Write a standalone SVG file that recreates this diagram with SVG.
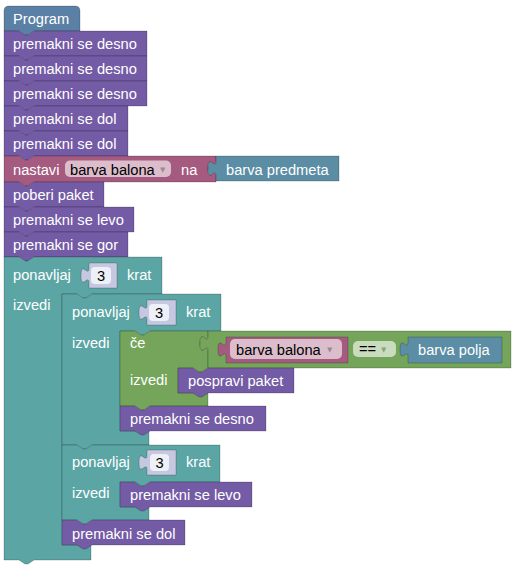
<svg xmlns="http://www.w3.org/2000/svg" width="516" height="577" viewBox="0 0 516 577">
<style>
.b{stroke:rgba(0,0,0,0.2);stroke-width:1}
.prog{fill:#5b80a5}.pur{fill:#745ba5}.pink{fill:#a55b80}.teal{fill:#5ba5a5}.grn{fill:#74a55b}.val{fill:#5b8da5}.shd{fill:#c6c8e2}
.t{font-family:"Liberation Sans",Arial,sans-serif;font-size:14.67px;fill:#fff}
.ft{font-family:"Liberation Sans",Arial,sans-serif;font-size:14.67px;fill:#000}
.arr{font-family:"DejaVu Sans",sans-serif;font-size:7px;fill:#000;fill-opacity:0.3}
.nf{fill:#eef0f7}
.pf{fill:#dcbdcc}
.gf{fill:#c9dcbd}
</style>
<rect width="516" height="577" fill="#fff"/>
<g id="program">
<path class="b prog" d="M4,11 Q4,6 9,6 H75 Q80,6 80,11 V31 H34 l-6,4 h-3 l-6,-4 H4 Z"/>
<text class="t" x="13" y="24">Program</text>
</g>
<g id="desno1">
<path class="b pur" d="M4,31 H19 l6,4 h3 l6,-4 H147 V56 H34 l-6,4 h-3 l-6,-4 H4 Z"/>
<text class="t" x="13" y="49">premakni se desno</text>
</g>
<g id="desno2">
<path class="b pur" d="M4,56 H19 l6,4 h3 l6,-4 H147 V81 H34 l-6,4 h-3 l-6,-4 H4 Z"/>
<text class="t" x="13" y="74">premakni se desno</text>
</g>
<g id="desno3">
<path class="b pur" d="M4,81 H19 l6,4 h3 l6,-4 H147 V106 H34 l-6,4 h-3 l-6,-4 H4 Z"/>
<text class="t" x="13" y="99">premakni se desno</text>
</g>
<g id="dol1">
<path class="b pur" d="M4,106 H19 l6,4 h3 l6,-4 H128 V131 H34 l-6,4 h-3 l-6,-4 H4 Z"/>
<text class="t" x="13" y="124">premakni se dol</text>
</g>
<g id="dol2">
<path class="b pur" d="M4,131 H19 l6,4 h3 l6,-4 H128 V156 H34 l-6,4 h-3 l-6,-4 H4 Z"/>
<text class="t" x="13" y="149">premakni se dol</text>
</g>
<g id="nastavi">
<path class="b pink" d="M4,156 H19 l6,4 h3 l6,-4 H216 V161 C216,171 208,153 208,168.5 C208,184 216,166 216,176 V182 H34 l-6,4 h-3 l-6,-4 H4 Z"/>
<text class="t" x="13" y="175">nastavi</text>
<rect class="pf" x="65" y="160.5" width="106" height="16.5" rx="5"/>
<text class="ft" x="70" y="174.5">barva balona</text>
<text class="arr" x="160" y="171.5">▼</text>
<text class="t" x="181" y="175">na</text>
</g>
<g id="barva_predmeta">
<path class="b val" d="M216,156 H339 V181 H216 V176 C216,166 208,184 208,168.5 C208,153 216,171 216,161 Z"/>
<text class="t" x="226" y="175">barva predmeta</text>
</g>
<g id="poberi">
<path class="b pur" d="M4,182 H19 l6,4 h3 l6,-4 H104 V207 H34 l-6,4 h-3 l-6,-4 H4 Z"/>
<text class="t" x="13" y="200">poberi paket</text>
</g>
<g id="levo1">
<path class="b pur" d="M4,207 H19 l6,4 h3 l6,-4 H134 V232 H34 l-6,4 h-3 l-6,-4 H4 Z"/>
<text class="t" x="13" y="225">premakni se levo</text>
</g>
<g id="gor">
<path class="b pur" d="M4,232 H19 l6,4 h3 l6,-4 H128 V257 H34 l-6,4 h-3 l-6,-4 H4 Z"/>
<text class="t" x="13" y="250">premakni se gor</text>
</g>
<g id="repeat_outer">
<path class="b teal" d="M4,257 H19 l6,4 h3 l6,-4 H162 V294 H92 l-6,4 h-3 l-6,-4 H62 V545 H91 V560 H34 l-6,4 h-3 l-6,-4 H4 Z"/>
<text class="t" x="13" y="280">ponavljaj</text>
<path class="b shd" d="M89,263 H117 V288 H89 V283 C89,273 81,291 81,275.5 C81,260 89,278 89,268 Z"/>
<rect class="nf" x="91" y="267" width="20" height="17" rx="4"/>
<text class="ft" x="101" y="281" text-anchor="middle">3</text>
<text class="t" x="127" y="280">krat</text>
<text class="t" x="13" y="310">izvedi</text>
</g>
<g id="repeat_inner1">
<path class="b teal" d="M62,294 H77 l6,4 h3 l6,-4 H221 V331 H150 l-6,4 h-3 l-6,-4 H120 V431 H149 V445 H92 l-6,4 h-3 l-6,-4 H62 Z"/>
<text class="t" x="72" y="317">ponavljaj</text>
<path class="b shd" d="M147,300 H176 V325 H147 V320 C147,310 139,328 139,312.5 C139,297 147,315 147,305 Z"/>
<rect class="nf" x="149" y="304" width="20" height="17" rx="4"/>
<text class="ft" x="159" y="318" text-anchor="middle">3</text>
<text class="t" x="186" y="317">krat</text>
<text class="t" x="72" y="348">izvedi</text>
</g>
<g id="if">
<path class="b grn" d="M120,331 H135 l6,4 h3 l6,-4 H208 V336 C208,346 200,328 200,343.5 C200,359 208,341 208,351 V368 H208 l-6,4 h-3 l-6,-4 H178 V393 H208 V406 H150 l-6,4 h-3 l-6,-4 H120 Z"/>
<text class="t" x="130" y="348">če</text>
<text class="t" x="130" y="385">izvedi</text>
</g>
<g id="compare">
<path class="b grn" d="M208,331 H511 V368 H208 V351 C208,341 200,359 200,343.5 C200,328 208,346 208,336 Z"/>
<rect class="gf" x="353" y="341" width="43" height="16" rx="5"/>
<text class="ft" x="359" y="354">==</text>
<text class="arr" x="381" y="351.5">▼</text>
</g>
<g id="barva_balona">
<path class="b pink" d="M226,337 H348 V363 H226 V357 C226,347 218,365 218,349.5 C218,334 226,352 226,342 Z"/>
<rect class="pf" x="230" y="339" width="112" height="20" rx="5"/>
<text class="ft" x="236" y="354.5">barva balona</text>
<text class="arr" x="327" y="352">▼</text>
</g>
<g id="barva_polja">
<path class="b val" d="M408,337 H502 V363 H408 V357 C408,347 400,365 400,349.5 C400,334 408,352 408,342 Z"/>
<text class="t" x="418" y="355">barva polja</text>
</g>
<g id="pospravi">
<path class="b pur" d="M178,368 H193 l6,4 h3 l6,-4 H294 V393 H208 l-6,4 h-3 l-6,-4 H178 Z"/>
<text class="t" x="188" y="386">pospravi paket</text>
</g>
<g id="desno4">
<path class="b pur" d="M120,406 H135 l6,4 h3 l6,-4 H266 V431 H150 l-6,4 h-3 l-6,-4 H120 Z"/>
<text class="t" x="130" y="424">premakni se desno</text>
</g>
<g id="repeat_inner2">
<path class="b teal" d="M62,445 H77 l6,4 h3 l6,-4 H220 V482 H150 l-6,4 h-3 l-6,-4 H120 V507 H149 V520 H92 l-6,4 h-3 l-6,-4 H62 Z"/>
<text class="t" x="72" y="467">ponavljaj</text>
<path class="b shd" d="M147,450 H176 V475 H147 V470 C147,460 139,478 139,462.5 C139,447 147,465 147,455 Z"/>
<rect class="nf" x="150" y="454" width="19" height="17" rx="4"/>
<text class="ft" x="159.5" y="468" text-anchor="middle">3</text>
<text class="t" x="186" y="467">krat</text>
<text class="t" x="72" y="498">izvedi</text>
</g>
<g id="levo2">
<path class="b pur" d="M120,482 H135 l6,4 h3 l6,-4 H252 V507 H150 l-6,4 h-3 l-6,-4 H120 Z"/>
<text class="t" x="130" y="500">premakni se levo</text>
</g>
<g id="dol3">
<path class="b pur" d="M62,520 H77 l6,4 h3 l6,-4 H185 V545 H92 l-6,4 h-3 l-6,-4 H62 Z"/>
<text class="t" x="72" y="539">premakni se dol</text>
</g>
<g id="connectors"></g>
</svg>
